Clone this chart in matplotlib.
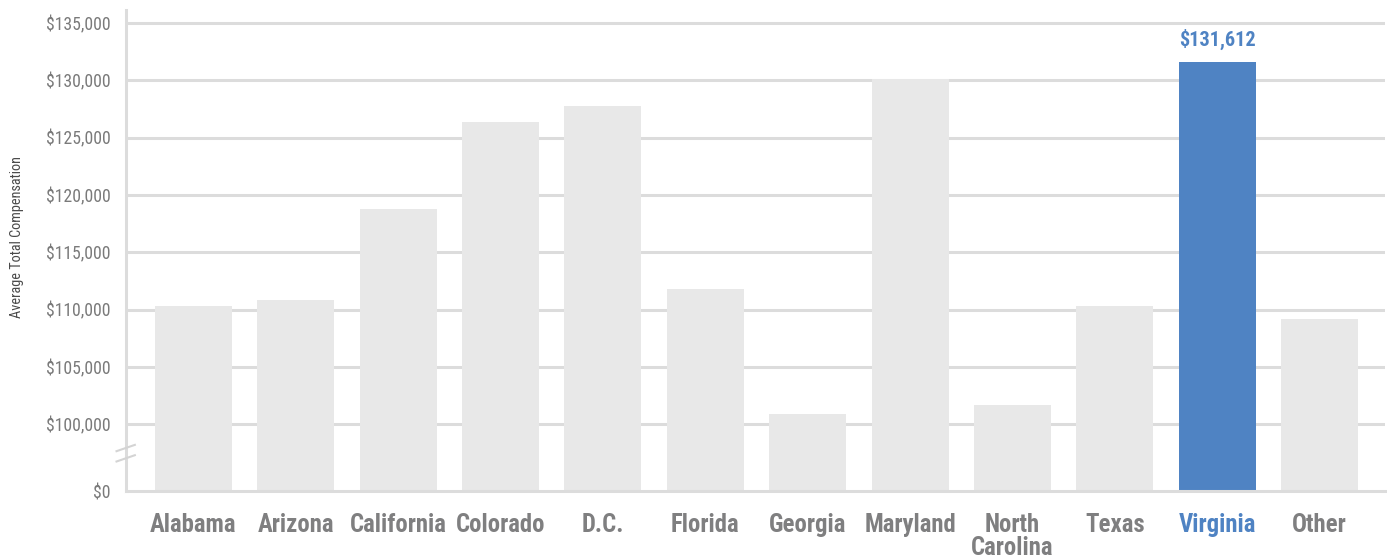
import matplotlib
matplotlib.use('Agg')
import matplotlib.pyplot as plt
from matplotlib import font_manager
from matplotlib.font_manager import FontProperties
import numpy as np

# data
states = ['Alabama', 'Arizona', 'California', 'Colorado', 'D.C.', 'Florida',
          'Georgia', 'Maryland', 'North\nCarolina', 'Texas', 'Virginia', 'Other']
comp = [110300, 110850, 118800, 126400, 127800, 111800,
        100900, 130100, 101700, 110300, 131612, 109200]
highlight = 'Virginia'
ytick_vals = [0, 100000, 105000, 110000, 115000, 120000, 125000, 130000, 135000]

# broken axis: $0 at the bottom, then 100k..135k
gap = 1.165  # space between $0 and $100,000 in units of 5k
def to_axis(v):
    if v == 0:
        return 0.0
    return gap + (v - 100000) / 5000.0


def find_font(bold):
    # look for a narrow / condensed face, the reference uses one
    want = 'bold' if bold else 'normal'
    cands = []
    for f in font_manager.fontManager.ttflist:
        fn = f.fname.lower()
        if ('condensed' in fn or 'narrow' in fn or f.stretch in ('condensed', 'semi-condensed')) \
                and 'italic' not in fn and 'oblique' not in fn:
            w = f.weight if isinstance(f.weight, int) else (700 if f.weight == 'bold' else 400)
            if (w >= 600) == bold:
                cands.append(f)
    pref = ['roboto', 'opensans', 'open sans', 'liberation', 'noto', 'dejavu']
    for p in pref:
        for f in cands:
            if p in f.fname.lower() and 'extra' not in f.fname.lower() and 'semi' not in f.fname.lower() \
                    and 'light' not in f.fname.lower():
                return FontProperties(fname=f.fname)
    return FontProperties(family='DejaVu Sans', weight=want)

fp_reg = find_font(False)
fp_bold = find_font(True)

grey = '#e8e8e8'
blue = '#4f83c3'
gridc = '#dcdcdc'

fig = plt.figure(figsize=(13.87, 5.59), dpi=100)
ax = fig.add_axes([0.0908, 0.1216, 0.9078, 0.8604])

x = np.arange(len(states))
heights = [to_axis(v) for v in comp]
colors = [blue if s == highlight else grey for s in states]
ax.bar(x, heights, width=0.752, color=colors, zorder=2)

ax.set_xlim(-0.659, 11.64)
ax.set_ylim(0, 8.39)

yt = [to_axis(v) for v in ytick_vals]
ax.set_yticks(yt)
ax.set_yticklabels(['${:,}'.format(v) for v in ytick_vals], fontproperties=fp_reg,
                   fontsize=12.7, color='#7a7a7a')
ax.tick_params(axis='y', length=0, pad=11)
for t in yt[1:]:
    ax.axhline(t, color=gridc, lw=2.2, zorder=1)

ax.set_xticks(x)
ax.set_xticklabels(states, fontproperties=fp_bold, fontsize=17.8, color='#7f7f80',
                   linespacing=0.95)
ax.tick_params(axis='x', length=0, pad=16)
for lab in ax.get_xticklabels():
    if lab.get_text() == highlight:
        lab.set_color(blue)

for s in ['top', 'right']:
    ax.spines[s].set_visible(False)
for s in ['left', 'bottom']:
    ax.spines[s].set_color(gridc)
    ax.spines[s].set_linewidth(2.2)
    ax.spines[s].set_zorder(3)

# break marks on the y axis
yb = 0.66
for dy in [-0.09, 0.09]:
    ax.plot([-0.751, -0.572], [yb + dy - 0.055, yb + dy + 0.055], color='#d4d4d4',
            lw=1.5, clip_on=False, zorder=4)

i = states.index(highlight)
ax.text(x[i], heights[i] + 0.2, '${:,}'.format(comp[i]), ha='center', va='bottom',
        fontproperties=fp_bold, fontsize=14.6, color=blue)

fig.text(0.0125, 0.576, 'Average Total Compensation', rotation=90, ha='center',
         va='center', fontproperties=fp_reg, fontsize=10.3, color='#4a4a4a')

fig.savefig('out.png', dpi=100)
